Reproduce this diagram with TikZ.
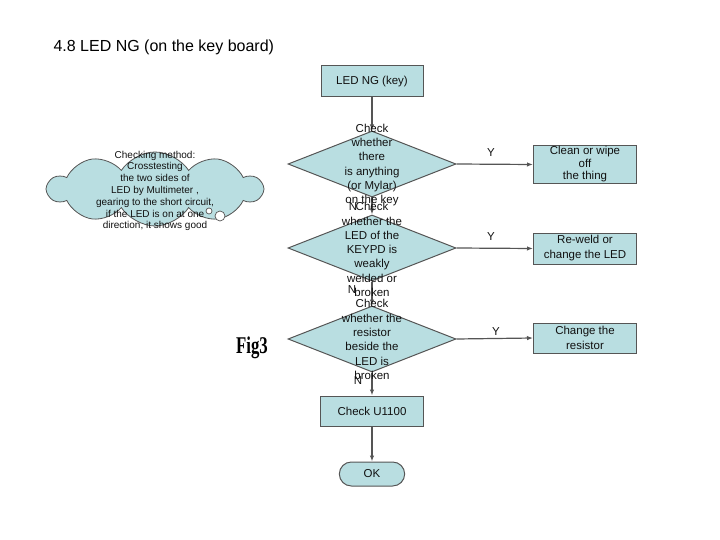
\documentclass[tikz,border=0pt]{standalone}
\usepackage{fontspec}
\setmainfont{Liberation Sans}
\newfontfamily\figfont{Liberation Serif}
\usetikzlibrary{shapes.geometric,shapes.symbols,shapes.misc,positioning,calc,arrows.meta}
\definecolor{boxfill}{HTML}{B9DEE1}
\definecolor{linecol}{HTML}{555555}
\definecolor{txtcol}{HTML}{111111}
\tikzset{
  procbox/.style={draw=linecol,fill=boxfill,line width=1pt,minimum width=103pt,minimum height=31pt,
    align=center,inner sep=1pt,text=txtcol,font=\fontsize{11.5}{15}\selectfont},
  decbox/.style={diamond,draw=linecol,fill=boxfill,line width=1pt,minimum width=168pt,minimum height=66pt,inner sep=0pt},
  dectext/.style={align=center,text=txtcol,font=\fontsize{11.5}{14.3}\selectfont},
  endbox/.style={rounded rectangle,draw=linecol,fill=boxfill,line width=1pt,minimum width=72pt,minimum height=24pt,
    text=txtcol,font=\fontsize{11.5}{13}\selectfont},
  lbl/.style={text=txtcol,font=\fontsize{11.5}{13}\selectfont,inner sep=0pt},
  flow/.style={draw=linecol,line width=1.2pt,-{Latex[length=6pt,width=4.5pt]}}
}

\begin{document}
\begin{tikzpicture}[x=1pt,y=-1pt]
  \useasboundingbox (0,0) rectangle (720,540);
  \node[anchor=west,font=\fontsize{16}{18}\selectfont] (title) at (50,47) {4.8 LED NG (on the key board)};

  % main column
  \node[procbox,minimum width=102pt] (start) at (372,81.5) {LED NG (key)};
  \node[decbox] (d1) at (372,164) {};
  \node[decbox] (d2) at (372,248) {};
  \node[decbox] (d3) at (372,339) {};
  \node[procbox,minimum width=103pt,minimum height=30pt] (u1100) at (372,411) {Check U1100};
  \node[endbox] (ok) at (372,474) {OK};

  \draw[flow] (start.south) -- (d1.north);
  \draw[flow] (d1.south) -- (d2.north);
  \draw[flow] (d2.south) -- (d3.north);
  \draw[flow] (d3.south) -- (u1100.north);
  \draw[flow] (u1100.south) -- (ok.north);

  % repair boxes
  \node[procbox,font=\fontsize{11.5}{12.5}\selectfont] (r1) at (585,164.5) {Clean or wipe\\off\\the thing};
  \node[procbox] (r2) at (585,248.5) {Re-weld or\\change the LED};
  \node[procbox,minimum height=30pt] (r3) at (585,338) {Change the\\resistor};

  \draw[flow] (d1.east) -- (r1.west);
  \draw[flow] (d2.east) -- (r2.west);
  \draw[flow] (d3.east) -- (r3.west);

  % diamond texts
  \node[dectext] (t1) at (372,165) {Check\\whether\\there\\is anything\\(or Mylar)\\on the key};
  \node[dectext] (t2) at (372,249.5) {Check\\whether the\\LED of the\\KEYPD is\\weakly\\welded or\\broken};
  \node[dectext] (t3) at (372,339.5) {Check\\whether the\\resistor\\beside the\\LED is\\broken};

  \node[lbl] (y1) at (491,153) {Y};
  \node[lbl] (y2) at (491,237) {Y};
  \node[lbl] (y3) at (496,332) {Y};
  \node[lbl] (n1) at (353,207) {N};
  \node[lbl] (n2) at (352,290) {N};
  \node[lbl] (n3) at (358,381) {N};

  \node[font=\figfont\bfseries\fontsize{24}{26}\selectfont,inner sep=0pt,xscale=0.7] (fig) at (252,348) {Fig3};

  % note cloud
  \node[cloud,cloud puffs=10,cloud puff arc=115,aspect=2.6,draw=linecol,fill=boxfill,line width=0.8pt,
    minimum width=214pt,minimum height=74pt,inner sep=0pt] (note) at (155,189) {};
  \node[circle,draw=linecol,fill=white,line width=0.7pt,minimum size=6pt,inner sep=0pt] (bub1) at (209,211) {};
  \node[circle,draw=linecol,fill=white,line width=0.7pt,minimum size=10pt,inner sep=0pt] (bub2) at (220,216) {};
  \node[align=center,text=txtcol,font=\fontsize{10}{11.8}\selectfont] (notetext) at (155,191)
    {Checking method:\\Crosstesting\\the two sides of\\LED by Multimeter ,\\gearing to the short circuit,\\if the LED is on at one\\direction, it shows good};
\end{tikzpicture}
\end{document}
